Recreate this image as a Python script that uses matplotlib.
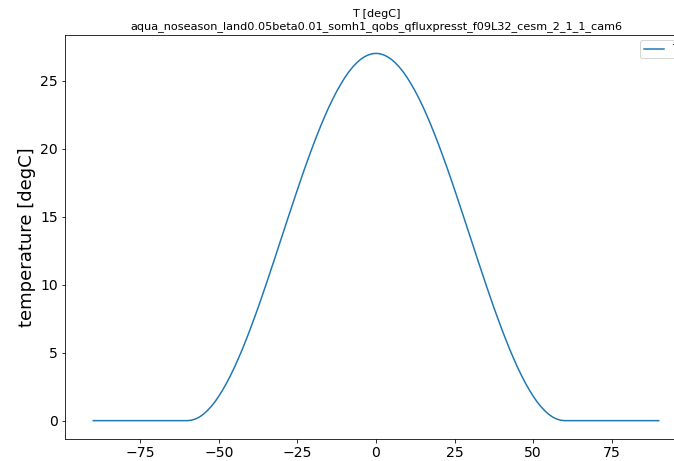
import matplotlib
matplotlib.use("Agg")
import matplotlib.pyplot as plt

# Zonal-mean surface temperature profile (degC) versus latitude
lat = [-90.0, -87.5, -85.0, -82.5, -80.0, -77.5, -75.0, -72.5, -70.0, -67.5, -65.0, -62.5,
       -60.0, -58.75, -57.5, -56.25, -55.0, -53.75, -52.5, -51.25, -50.0, -48.75,
       -47.5, -46.25, -45.0, -43.75, -42.5, -41.25, -40.0, -38.75, -37.5, -36.25,
       -35.0, -33.75, -32.5, -31.25, -30.0, -28.75, -27.5, -26.25, -25.0, -23.75,
       -22.5, -21.25, -20.0, -18.75, -17.5, -16.25, -15.0, -13.75, -12.5, -11.25,
       -10.0, -8.75, -7.5, -6.25, -5.0, -3.75, -2.5, -1.25,
       0.0,
       1.25, 2.5, 3.75, 5.0, 6.25, 7.5, 8.75, 10.0,
       11.25, 12.5, 13.75, 15.0, 16.25, 17.5, 18.75, 20.0, 21.25, 22.5,
       23.75, 25.0, 26.25, 27.5, 28.75, 30.0, 31.25, 32.5, 33.75, 35.0,
       36.25, 37.5, 38.75, 40.0, 41.25, 42.5, 43.75, 45.0, 46.25, 47.5,
       48.75, 50.0, 51.25, 52.5, 53.75, 55.0, 56.25, 57.5, 58.75, 60.0,
       62.5, 65.0, 67.5, 70.0, 72.5, 75.0, 77.5, 80.0, 82.5, 85.0, 87.5, 90.0]

temp = [0.0, 0.0, 0.0, 0.0, 0.0, 0.0, 0.0, 0.0, 0.0, 0.0, 0.0, 0.0,
        0.0, 0.03, 0.12, 0.26, 0.46, 0.72, 1.03, 1.39, 1.81, 2.28,
        2.79, 3.35, 3.95, 4.60, 5.28, 6.00, 6.75, 7.53, 8.33, 9.16,
        10.01, 10.87, 11.74, 12.62, 13.5, 14.38, 15.26, 16.13, 16.99, 17.84,
        18.67, 19.47, 20.25, 21.00, 21.72, 22.40, 23.05, 23.65, 24.21, 24.72,
        25.19, 25.61, 25.97, 26.28, 26.54, 26.74, 26.88, 26.97,
        27.0,
        26.97, 26.88, 26.74, 26.54, 26.28, 25.97, 25.61, 25.19,
        24.72, 24.21, 23.65, 23.05, 22.40, 21.72, 21.00, 20.25, 19.47, 18.67,
        17.84, 16.99, 16.13, 15.26, 14.38, 13.5, 12.62, 11.74, 10.87, 10.01,
        9.16, 8.33, 7.53, 6.75, 6.00, 5.28, 4.60, 3.95, 3.35, 2.79,
        2.28, 1.81, 1.39, 1.03, 0.72, 0.46, 0.26, 0.12, 0.03, 0.0,
        0.0, 0.0, 0.0, 0.0, 0.0, 0.0, 0.0, 0.0, 0.0, 0.0, 0.0, 0.0]

series_label = "T"
title = "T [degC]\naqua_noseason_land0.05beta0.01_somh1_qobs_qfluxpresst_f09L32_cesm_2_1_1_cam6"
ylabel = "temperature [degC]"

W, H, DPI = 674, 461, 72
fig = plt.figure(figsize=(W / DPI, H / DPI), dpi=DPI)

# axes box in pixels; its right side runs past the figure edge
left, right, top, bottom = 65, 687, 35, 439
ax = fig.add_axes([left / W, (H - bottom) / H, (right - left) / W, (bottom - top) / H])

ax.plot(lat, temp, color="#1f77b4", lw=1.5, label=series_label)
ax.set_title(title, fontsize=11.2)
ax.set_ylabel(ylabel, fontsize=18)
ax.tick_params(axis="both", labelsize=14)
ax.legend(loc="upper right", fontsize=10)

fig.savefig("out.png", dpi=DPI)
